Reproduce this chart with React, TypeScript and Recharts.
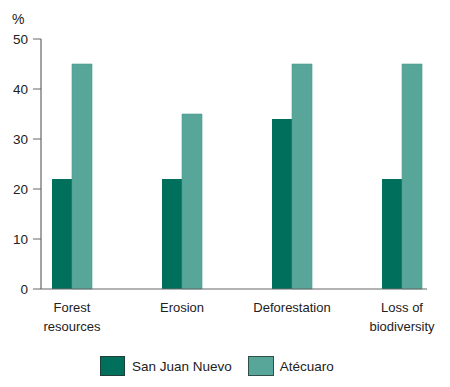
import React from "react";
import { BarChart, Bar, XAxis, YAxis } from "recharts";

const categories = ["Forest resources", "Erosion", "Deforestation", "Loss of biodiversity"];
const categoryLines = [["Forest", "resources"], ["Erosion"], ["Deforestation"], ["Loss of", "biodiversity"]];
const sanJuanNuevo = [22, 22, 34, 22];
const atecuaro = [45, 35, 45, 45];
const yTicks = [0, 10, 20, 30, 40, 50];

const DARK = "#006f5c";
const LIGHT = "#58a69a";
const AXIS = "#666666";
const FONT = "'Liberation Sans', Arial, Helvetica, sans-serif";

const data = categories.map((c, i) => ({
  idx: i,
  name: c,
  sjn: sanJuanNuevo[i],
  ate: atecuaro[i],
}));

const XTick = (props: any) => {
  const { x, y, payload } = props;
  const lines = categoryLines[payload.value] || [];
  return (
    <g>
      {lines.map((l: string, k: number) => (
        <text
          key={k}
          x={x}
          y={y + 15 + k * 19}
          textAnchor="middle"
          fontSize={13}
          fontFamily={FONT}
          fill="#222"
        >
          {l}
        </text>
      ))}
    </g>
  );
};

export default function App() {
  return (
    <div style={{ position: "absolute", left: 0, top: 0, width: 450, height: 387, background: "#fff" }}>
      <div style={{ position: "absolute", left: 12, top: 11, fontFamily: FONT, fontSize: 14, color: "#222" }}>%</div>
      <BarChart
        width={450}
        height={387}
        data={data}
        margin={{ top: 39, right: 23, bottom: 48, left: 0 }}
        barGap={0}
      >
        <XAxis
          dataKey="idx"
          type="number"
          domain={[-0.2818, 3.227]}
          ticks={[0, 1, 2, 3]}
          allowDataOverflow
          tickLine={false}
          axisLine={{ stroke: AXIS, strokeWidth: 1.2 }}
          tick={<XTick />}
          height={50}
          interval={0}
        />
        <YAxis
          width={41}
          domain={[0, 50]}
          ticks={yTicks}
          tickSize={8}
          tickMargin={5}
          tickLine={{ stroke: AXIS }}
          axisLine={{ stroke: AXIS, strokeWidth: 1.2 }}
          tick={{ fontSize: 13.5, fontFamily: FONT, fill: "#222" }}
        />
        <Bar dataKey="sjn" fill={DARK} barSize={20} isAnimationActive={false} />
        <Bar dataKey="ate" fill={LIGHT} stroke="#4d9a8e" strokeWidth={0.6} barSize={20} isAnimationActive={false} />
      </BarChart>
      <div style={{ position: "absolute", left: 100, top: 356, display: "flex", alignItems: "center", fontFamily: FONT, fontSize: 13.5, color: "#222" }}>
        <span style={{ display: "inline-block", width: 23, height: 18, background: DARK, border: "1px solid #1f3f38" }} />
        <span style={{ marginLeft: 7 }}>San Juan Nuevo</span>
        <span style={{ display: "inline-block", width: 24, height: 18, background: LIGHT, border: "1px solid #2f4f48", marginLeft: 16 }} />
        <span style={{ marginLeft: 6 }}>Atécuaro</span>
      </div>
    </div>
  );
}
